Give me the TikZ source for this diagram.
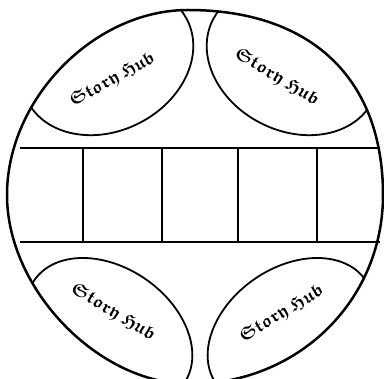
\documentclass[tikz,border=0pt]{standalone}
\usepackage{amsfonts}
\begin{document}
\begin{tikzpicture}[x=1pt,y=-1pt,
  rim/.style={line width=2.5pt},
  hubline/.style={line width=1.8pt},
  rule/.style={line width=2.2pt},
  cellline/.style={line width=1.6pt},
  hubtext/.style={font=\fontsize{18}{20}\usefont{U}{euf}{b}{n}, inner sep=0pt}]
\useasboundingbox (0,0) rectangle (384,379);
\coordinate (cl) at (7,195);
\coordinate (ct) at (188,10);
\coordinate (cr) at (383,195);
\coordinate (cb) at (190,384);
\coordinate (ctl) at (107.3,60.5);
\coordinate (ctr) at (292.7,60.5);
\coordinate (cbl) at (109.2,331.8);
\coordinate (cbr) at (290.8,331.8);
\begin{scope}
\clip (cl) .. controls (7,99) and (94,10) .. (ct)
  .. controls (311,10) and (383,78.5) .. (cr)
  .. controls (383,300.8) and (298,384) .. (cb)
  .. controls (98.5,384) and (7,289.5) .. (cl) -- cycle;
\draw[hubline,rotate around={27:(ctl)}] (ctl) ellipse [x radius=89.6pt, y radius=70.3pt];
\draw[hubline,rotate around={-27:(ctr)}] (ctr) ellipse [x radius=89.6pt, y radius=70.3pt];
\draw[hubline,rotate around={-34.7:(cbl)}] (cbl) ellipse [x radius=90.9pt, y radius=64pt];
\draw[hubline,rotate around={34.7:(cbr)}] (cbr) ellipse [x radius=90.9pt, y radius=64pt];
\end{scope}
\draw[rim] (cl) .. controls (7,99) and (94,10) .. (ct)
  .. controls (311,10) and (383,78.5) .. (cr)
  .. controls (383,300.8) and (298,384) .. (cb)
  .. controls (98.5,384) and (7,289.5) .. (cl) -- cycle;
\coordinate (r1l) at (20,148);
\coordinate (r1r) at (380,148);
\coordinate (r2l) at (20,242);
\coordinate (r2r) at (380,242);
\draw[rule] (r1l) -- (r1r);
\draw[rule] (r2l) -- (r2r);
\foreach \x [count=\i] in {83,162,238,317} {
  \coordinate (vt\i) at (\x,148);
  \coordinate (vb\i) at (\x,242);
  \draw[cellline] (vt\i) -- (vb\i);
}
\node[hubtext, rotate=29] (h1) at (112.5,80) {Story\hspace{4pt}Hub};
\node[hubtext, rotate=-31] (h2) at (276.7,77.5) {Story\hspace{4pt}Hub};
\node[hubtext, rotate=-31] (h3) at (113,312.5) {Story\hspace{4pt}Hub};
\node[hubtext, rotate=31] (h4) at (281.7,314) {Story\hspace{4pt}Hub};
\end{tikzpicture}
\end{document}
